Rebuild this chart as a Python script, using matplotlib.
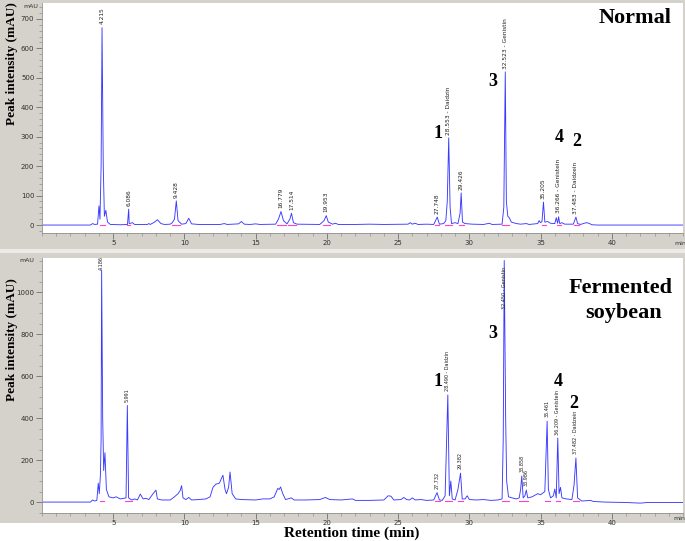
import matplotlib
matplotlib.use("Agg")
import matplotlib.pyplot as plt
from matplotlib.patches import Rectangle
from matplotlib.ticker import MultipleLocator

W, H = 685, 541

# ---- chromatogram traces (time in min, signal in mAU) ----
normal_t = [0, 3.4, 3.55, 3.7, 3.9, 4.0, 4.07, 4.15, 4.215, 4.3, 4.38, 4.48, 4.6, 4.8,
            5.5, 6.0, 6.086, 6.12, 6.35, 6.5, 7.4, 7.5, 7.6, 7.9, 8.1, 8.35, 8.6,
            9.0, 9.15, 9.3, 9.428, 9.55, 9.8, 10.1, 10.3, 10.5, 11.0, 12.5, 12.8, 13.0,
            13.8, 14.0, 14.2, 14.6, 15.0, 15.3, 16.4, 16.6, 16.779, 16.95, 17.2, 17.4,
            17.514, 17.65, 17.9, 19.5, 19.8, 19.953, 20.1, 20.4, 20.6, 20.8, 22.0, 23.0,
            24.0, 25.7, 25.85, 26.0, 26.2, 26.4, 27.0, 27.5, 27.748, 27.9, 28.2, 28.35,
            28.45, 28.553, 28.65, 28.75, 29.0, 29.2, 29.35, 29.426, 29.52, 29.7, 30.2,
            31.0, 31.4, 31.6, 32.3, 32.42, 32.523, 32.6, 32.7, 32.8, 32.95, 33.3, 33.6,
            34.0, 34.2, 34.8, 34.9, 35.0, 35.1, 35.205, 35.3, 35.5, 35.7, 36.0, 36.1,
            36.2, 36.266, 36.35, 36.5, 36.7, 37.3, 37.483, 37.6, 37.8, 38.2, 38.4, 38.6,
            39.0, 45.0]
normal_y = [0, 0, 5, 2, 3, 65, 20, 200, 670, 200, 30, 50, 10, 2,
            1, 2, 54, 5, 8, 2, 2, 5, 2, 10, 18, 5, 2,
            3, 8, 20, 82, 15, 3, 5, 23, 4, 2, 2, 5, 2,
            4, 12, 3, 2, 4, 2, 3, 20, 46, 15, 4, 20,
            40, 8, 3, 2, 15, 32, 10, 3, 6, 2, 2, 3,
            2, 3, 8, 3, 6, 2, 3, 2, 27, 3, 5, 15,
            80, 296, 60, 5, 8, 5, 40, 109, 10, 5, 3,
            2, 6, 2, 3, 60, 520, 80, 30, 25, 10, 5, 3,
            5, 2, 5, 15, 8, 12, 78, 10, 12, 6, 5, 25,
            6, 28, 5, 8, 3, 3, 27, 5, 2, 8, 6, 1,
            0, 0]

ferm_t = [0, 3.4, 3.55, 3.7, 3.85, 3.95, 4.02, 4.1, 4.15, 4.186, 4.26, 4.33, 4.42, 4.52,
          4.7, 5.0, 5.2, 5.5, 5.9, 5.991, 6.08, 6.3, 6.5, 6.7, 6.9, 7.1, 7.3, 7.5,
          7.8, 8.0, 8.1, 8.4, 9.0, 9.3, 9.55, 9.7, 9.8, 9.9, 10.1, 10.3, 10.5, 11.0,
          11.5, 11.8, 12.0, 12.2, 12.45, 12.7, 12.85, 12.95, 13.1, 13.2, 13.35, 13.6,
          14.0, 15.0, 15.5, 16.0, 16.3, 16.55, 16.65, 16.75, 16.9, 17.1, 17.5, 17.7,
          18.5, 19.5, 19.9, 20.2, 21.0, 21.8, 22.0, 23.0, 24.0, 24.3, 24.5, 24.7,
          25.2, 25.4, 25.6, 25.8, 26.0, 26.2, 26.6, 27.0, 27.5, 27.732, 27.9, 28.1,
          28.3, 28.49, 28.6, 28.7, 28.8, 29.0, 29.2, 29.382, 29.5, 29.7, 29.85, 30.0,
          30.5, 31.0, 31.5, 32.0, 32.3, 32.38, 32.45, 32.55, 32.62, 32.75, 33.0, 33.3,
          33.5, 33.6, 33.68, 33.78, 33.9, 34.0, 34.1, 34.4, 34.8, 35.0, 35.3, 35.461,
          35.55, 35.7, 35.9, 36.0, 36.1, 36.209, 36.3, 36.4, 36.5, 36.8, 37.2, 37.35,
          37.482, 37.6, 37.9, 38.5, 38.7, 39.5, 41.0, 42.0, 42.5, 45.0]
ferm_y = [0, 0, 10, 5, 8, 90, 40, 128, 300, 1105, 400, 150, 235, 60,
          25, 20, 25, 15, 20, 460, 20, 10, 15, 10, 38, 15, 18, 12,
          40, 57, 15, 10, 10, 25, 40, 55, 78, 20, 12, 22, 10, 12,
          15, 25, 70, 85, 90, 128, 60, 40, 70, 143, 40, 15,
          12, 10, 15, 15, 25, 65, 60, 72, 40, 12, 20, 10,
          10, 12, 22, 12, 10, 15, 8, 8, 10, 30, 28, 10,
          12, 22, 12, 10, 20, 10, 12, 8, 10, 45, 10, 8,
          30, 510, 30, 100, 15, 10, 60, 138, 15, 15, 30, 12,
          10, 12, 8, 10, 15, 300, 1150, 400, 100, 25, 20, 15,
          20, 60, 124, 20, 30, 57, 20, 25, 40, 35, 50, 385,
          60, 20, 30, 62, 20, 305, 40, 70, 20, 15, 12, 80,
          210, 20, 5, 8, 3, 0, -2, -5, -2, -2]

# ---- peak annotations ----
normal_lab = ["4.215", "6.086", "9.428", "16.779", "17.514", "19.953", "27.748",
              "28.553 - Daidzin", "29.426", "32.523 - Genistin", "35.205",
              "36.266 - Genistein", "37.483 - Daidzein"]
normal_lab_t = [4.215, 6.086, 9.428, 16.779, 17.514, 19.953, 27.748,
                28.553, 29.426, 32.523, 35.205, 36.266, 37.483]
normal_lab_y = [672, 56, 84, 48, 42, 34, 29, 298, 111, 522, 80, 30, 29]
normal_base = [(4.05, 4.4), (6.0, 6.2), (9.1, 9.7), (16.5, 17.1), (17.3, 17.8),
               (19.7, 20.2), (27.6, 27.9), (28.3, 28.8), (29.3, 29.6), (32.3, 32.8),
               (35.1, 35.4), (36.15, 36.45), (37.35, 37.7)]

ferm_lab = ["4.186", "5.991", "27.732", "28.490 - Daidzin", "29.382",
            "32.450 - Genistin", "33.858", "33.986", "35.461",
            "36.209 - Genistein", "37.482 - Daidzein"]
ferm_lab_t = [4.186, 5.991, 27.732, 28.490, 29.382, 32.450, 33.68, 34.0,
              35.461, 36.209, 37.482]
ferm_lab_y = [1090, 465, 50, 515, 143, 905, 129, 62, 390, 305, 215]
ferm_base = [(4.05, 4.35), (5.85, 6.3), (27.6, 27.95), (28.3, 28.8), (29.2, 29.55),
             (32.3, 32.8), (33.5, 33.8), (33.85, 34.15), (35.3, 35.65),
             (36.1, 36.35), (37.3, 37.7)]

big_nums_top = [("1", 438, 133), ("3", 493, 82), ("4", 559, 138), ("2", 577, 142)]
big_nums_bot = [("1", 438, 381), ("3", 493, 334), ("4", 558, 381), ("2", 574, 403)]

serif = ["Liberation Serif", "DejaVu Serif"]
narrow = ["Liberation Sans Narrow", "DejaVu Sans"]
frame_col = "#d5d2cb"
line_col = "#3a3aff"


def fx(px):
    return px / W


def fy(py):
    return 1 - py / H


fig = plt.figure(figsize=(W / 100, H / 100), dpi=100)
fig.patch.set_facecolor("white")

# gray instrument frames, kept behind the axes
fig.patches.append(Rectangle((0, fy(249)), 1, 249 / H, transform=fig.transFigure,
                             facecolor=frame_col, edgecolor="none", zorder=-5))
fig.patches.append(Rectangle((0, fy(523)), 1, (523 - 253) / H, transform=fig.transFigure,
                             facecolor=frame_col, edgecolor="none", zorder=-5))
fig.patches.append(Rectangle((0, fy(253)), 1, 4 / H, transform=fig.transFigure,
                             facecolor="#ecebe8", edgecolor="none", zorder=-5))


def make_axes(top, bottom, ylim, ymajor, yminor):
    ax = fig.add_axes([fx(42), fy(bottom), fx(683) - fx(42), fy(top) - fy(bottom)])
    ax.set_zorder(2)
    ax.set_facecolor("white")
    ax.set_xlim(0, 45)
    ax.set_ylim(*ylim)
    ax.xaxis.set_major_locator(MultipleLocator(5))
    ax.xaxis.set_minor_locator(MultipleLocator(1))
    ax.yaxis.set_major_locator(MultipleLocator(ymajor))
    ax.yaxis.set_minor_locator(MultipleLocator(yminor))
    ax.set_xticks([5, 10, 15, 20, 25, 30, 35, 40])
    ax.tick_params(axis="both", which="major", length=4, width=0.6, color="#707070",
                   labelsize=5, labelcolor="#303030", pad=1.5)
    ax.tick_params(axis="x", which="major", pad=1)
    ax.tick_params(axis="both", which="minor", length=2, width=0.5, color="#909090")
    for s in ["top", "right"]:
        ax.spines[s].set_visible(False)
    for s in ["left", "bottom"]:
        ax.spines[s].set_color("#909090")
        ax.spines[s].set_linewidth(0.6)
    return ax


ax1 = make_axes(3, 233, (-27, 754), 100, 20)
ax2 = make_axes(258, 513, (-52, 1162), 200, 50)


def draw_panel(ax, t, y, labs, lab_t, lab_y, bases, base_y, lab_font, lab_size):
    for a, b in bases:
        ax.plot([a, b], [base_y, base_y], color="#ff40d0", lw=0.8, zorder=1)
    ax.plot(t, y, color=line_col, lw=0.65, zorder=2)
    for s, xt, yt in zip(labs, lab_t, lab_y):
        ax.annotate(s, (xt, yt), xytext=(0, 2), textcoords="offset points",
                    rotation=90, ha="center", va="bottom", fontsize=lab_size,
                    family=lab_font, color="#202020", annotation_clip=False,
                    clip_on=True)


draw_panel(ax1, normal_t, normal_y, normal_lab, normal_lab_t, normal_lab_y,
           normal_base, 0, ["DejaVu Sans"], 4.2)
draw_panel(ax2, ferm_t, ferm_y, ferm_lab, ferm_lab_t, ferm_lab_y,
           ferm_base, 5, narrow, 3.5)

# axis unit captions
fig.text(fx(31), fy(7), "mAU", fontsize=4.5, color="#303030", ha="center", va="center")
fig.text(fx(27), fy(260), "mAU", fontsize=4.5, color="#303030", ha="center", va="center")
fig.text(fx(680), fy(244), "min", fontsize=4.5, color="#303030", ha="center", va="center")
fig.text(fx(679), fy(519), "min", fontsize=4.5, color="#303030", ha="center", va="center")

# axis titles
fig.text(fx(12), fy(64), "Peak intensity (mAU)", rotation=90, family=serif,
         fontweight="bold", fontsize=9.5, ha="center", va="center")
fig.text(fx(12), fy(340), "Peak intensity (mAU)", rotation=90, family=serif,
         fontweight="bold", fontsize=9.5, ha="center", va="center")
fig.text(fx(352), fy(533), "Retention time (min)", family=serif,
         fontweight="bold", fontsize=11, ha="center", va="center")

# sample names
fig.text(fx(635), fy(18), "Normal", family=serif, fontweight="bold", fontsize=16,
         ha="center", va="center")
fig.text(fx(621), fy(288), "Fermented", family=serif, fontweight="bold", fontsize=16,
         ha="center", va="center")
fig.text(fx(624), fy(313), "soybean", family=serif, fontweight="bold", fontsize=16,
         ha="center", va="center")

for s, px, py in big_nums_top + big_nums_bot:
    fig.text(fx(px), fy(py), s, family=serif, fontweight="bold", fontsize=13,
             ha="center", va="center")

fig.savefig("out.png", dpi=100)
